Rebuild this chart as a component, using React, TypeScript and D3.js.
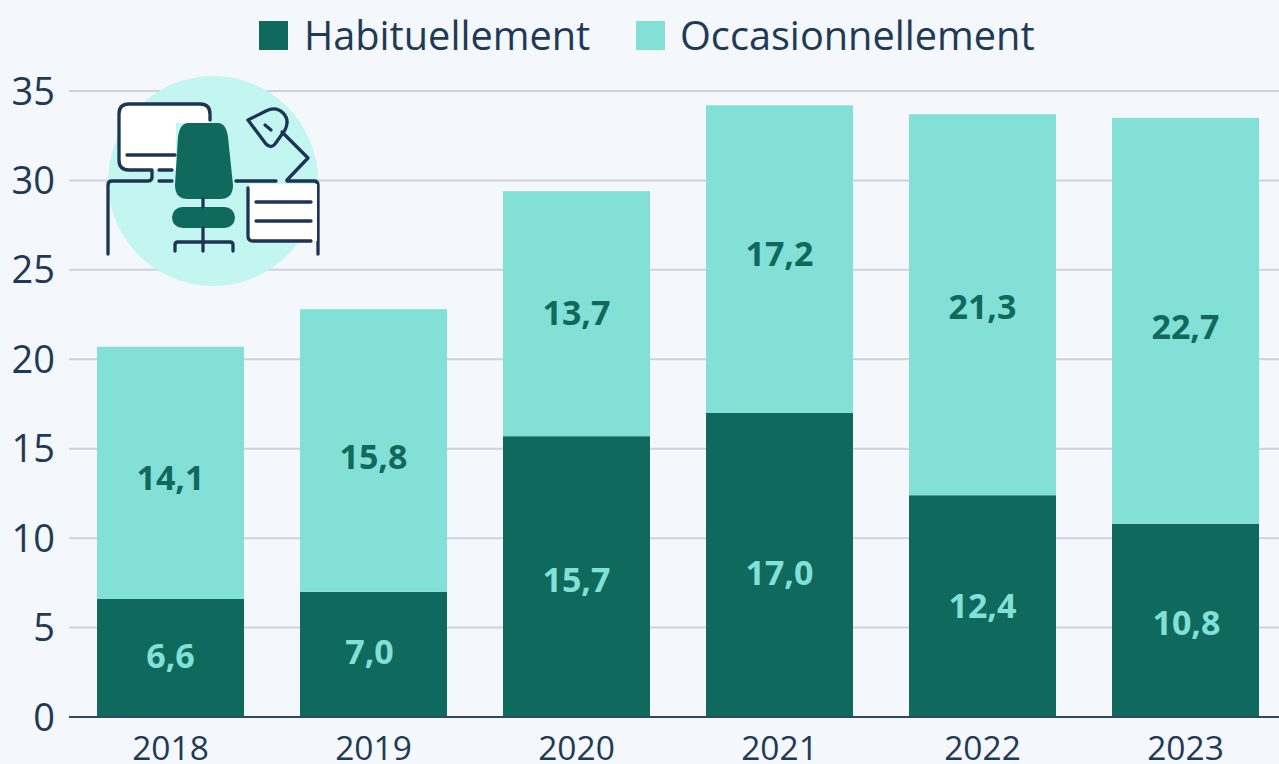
import React from "react";
import * as d3 from "d3";

const years = ["2018", "2019", "2020", "2021", "2022", "2023"];
const habituellement = [6.6, 7.0, 15.7, 17.0, 12.4, 10.8];
const occasionnellement = [14.1, 15.8, 13.7, 17.2, 21.3, 22.7];
const yTicks = [0, 5, 10, 15, 20, 25, 30, 35];

const WIDTH = 1279;
const HEIGHT = 764;
const DARK = "#0f695d";
const LIGHT = "#82e0d6";
const INK = "#1f3a57";
const FONT = "'Open Sans', sans-serif";

// Manual offsets (px) of the value labels from their segment centres.
const habitNudge = [-2, -2, 3, 8, 0, 3];
const occasNudge = [5, 6, -1, -5, 2, 6];
const habitNudgeX = [0, -4, 0, 0, 0, 1];

function fmt(v: number) {
  return v.toFixed(1).replace(".", ",");
}

function DeskIcon() {
  const s = { fill: "none", stroke: "#1c3554", strokeWidth: 3.3, strokeLinecap: "round" as const, strokeLinejoin: "round" as const };
  return (
    <g>
      <circle cx={213} cy={181} r={105} fill="#c4f6f1" />
      <path d="M210 123 V114 Q210 104 200 104 H129 Q119 104 119 114 V160 Q119 170 129 170 H176 V123 Z" fill="#fff" />
      <path d="M210 120 V114 Q210 104 200 104 H129 Q119 104 119 114 V160 Q119 170 129 170 H152 V177 Q152 181 148 181 H112 Q108 181 108 185 V254" {...s} />
      <path d="M127 155 H175" {...s} />
      <path d="M159 170 H172 M159 181 H172" {...s} />
      <path d="M236 181 H276 M287 181 H314 Q318 181 318 185 V254" {...s} />
      <path d="M249 184 H317 V241 H249 Z" fill="#fff" />
      <path d="M248 188 V236 Q248 241 253 241 H311" {...s} />
      <path d="M256 202 H311 M256 221 H311" {...s} />
      <path d="M287 180 L308 158 L282 132" {...s} />
      <path d="M248 120 L266 111 Q276 106 283 113 Q290 120 285 130 L275 144 Q271 149 266 144 Z" fill="#fff" {...s} />
      <path d="M265 125 L271 130" {...s} />
      <path d="M188 123 H218 Q226 123 228 137 L233 185 Q233 199 220 199 H188 Q175 199 175 185 L178 137 Q180 123 188 123 Z" fill={DARK} />
      <rect x={172} y={207} width={63} height={21} rx={10.5} fill={DARK} />
      <path d="M203 199 V207 M203 228 V251 M175 251 V245 Q175 242 178 242 H230 Q233 242 233 245 V251" {...s} />
    </g>
  );
}

export default function App() {
  const x = d3.scaleBand<string>().domain(years).range([71, 1285]).paddingInner(56 / 203).paddingOuter(26 / 203);
  const y = d3.scaleLinear().domain([0, 35]).range([717, 91]);

  return (
    <svg width={WIDTH} height={HEIGHT} viewBox={`0 0 ${WIDTH} ${HEIGHT}`} style={{ position: "fixed", left: 0, top: 0, background: "#f4f7fb" }} fontFamily={FONT}>
      {yTicks.map((t) => (
        <g key={t}>
          {t > 0 && <line x1={69} x2={WIDTH} y1={y(t)} y2={y(t)} stroke="#cdd2dd" strokeWidth={2} />}
          <text x={55} y={y(t) + 13.5} textAnchor="end" fontSize={38} fill={INK}>{t}</text>
        </g>
      ))}
      <DeskIcon />
      {years.map((yr, i) => {
        const h = habituellement[i];
        const o = occasionnellement[i];
        const bx = x(yr)!;
        const bw = x.bandwidth();
        return (
          <g key={yr}>
            <rect x={bx} y={y(h)} width={bw} height={y(0) - y(h)} fill={DARK} />
            <rect x={bx} y={y(h + o)} width={bw} height={y(h) - y(h + o)} fill={LIGHT} />
            <text x={bx + bw / 2 + habitNudgeX[i]} y={y(h / 2) + habitNudge[i] + 12} textAnchor="middle" fontSize={34} fontWeight={700} fill={LIGHT}>{fmt(h)}</text>
            <text x={bx + bw / 2} y={y(h + o / 2) + occasNudge[i] + 12} textAnchor="middle" fontSize={34} fontWeight={700} fill={DARK}>{fmt(o)}</text>
            <text x={bx + bw / 2} y={760} textAnchor="middle" fontSize={33.5} fill={INK}>{yr}</text>
          </g>
        );
      })}
      <line x1={69} x2={WIDTH} y1={y(0)} y2={y(0)} stroke="#2c4a66" strokeWidth={2} />
      <rect x={259} y={21} width={29} height={29} fill={DARK} />
      <text x={304} y={50} fontSize={39.7} fill={INK}>Habituellement</text>
      <rect x={636} y={21} width={29} height={29} fill={LIGHT} />
      <text x={680} y={50} fontSize={39.7} fill={INK}>Occasionnellement</text>
    </svg>
  );
}
